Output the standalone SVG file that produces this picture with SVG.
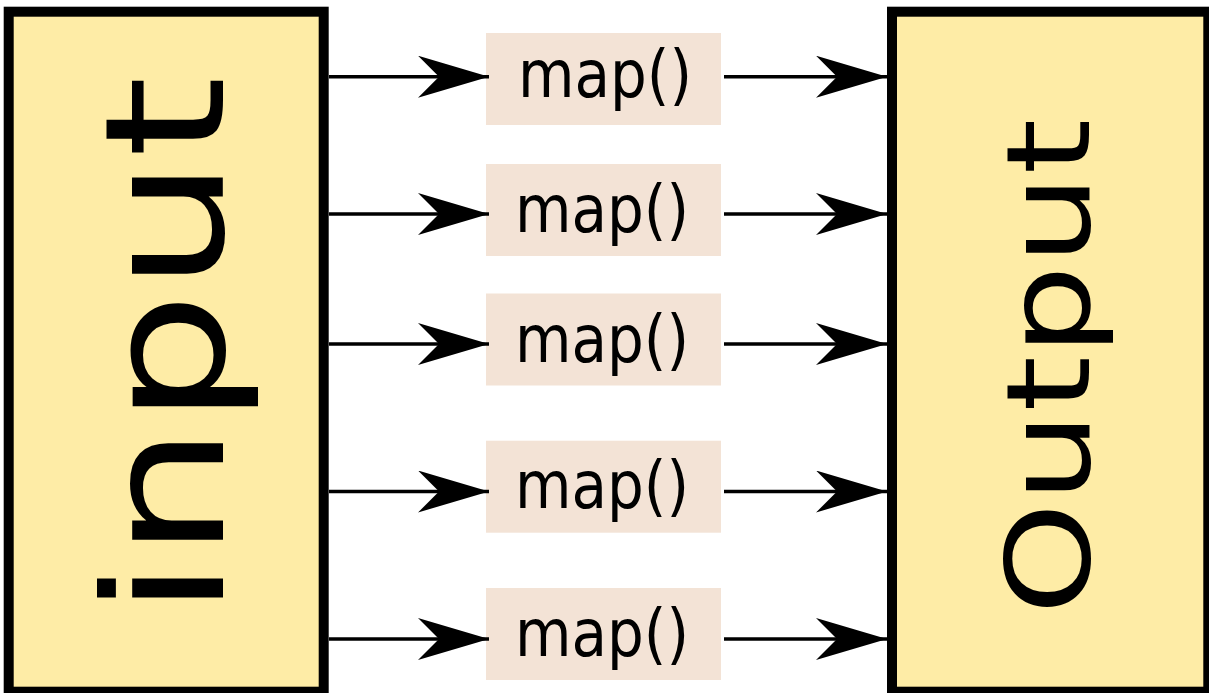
<svg xmlns="http://www.w3.org/2000/svg" width="1209" height="693" viewBox="0 0 1209 693">
  <style>
    .big { fill: #FEECA6; stroke: #000; stroke-width: 10; }
    .mapbox { fill: #F3E3D6; stroke: none; }
    .conn { stroke: #000; stroke-width: 3.5; fill: none; }
    .lbl { font-family: "DejaVu Sans", sans-serif; fill: #000; }
  </style>
  <defs>
    <marker id="head" viewBox="-71 -21 71 42" refX="0" refY="0" markerWidth="71" markerHeight="42" markerUnits="userSpaceOnUse" orient="auto">
      <path d="M0,0 L-71,-21 L-50,0 L-71,21 Z" fill="#000"/>
    </marker>
  </defs>
  <rect width="1209" height="693" fill="#fff"/>

  <g id="input">
    <rect class="big" x="8.7" y="11.7" width="315" height="680"/>
    <text class="lbl" font-size="166" text-anchor="middle" transform="translate(223,346.5) rotate(-90) scale(1.268,1)">input</text>
  </g>

  <g id="output">
    <rect class="big" x="892" y="11.7" width="316.3" height="680"/>
    <text class="lbl" font-size="115" text-anchor="middle" transform="translate(1089,366.7) rotate(-90) scale(1.243,1)">Output</text>
  </g>

  <g id="map1">
    <rect class="mapbox" x="486" y="33" width="235" height="92"/>
    <text class="lbl" font-size="58" transform="translate(518,97.3) scale(1,1.14)">map()</text>
  </g>
  <g id="map2">
    <rect class="mapbox" x="486" y="164" width="235" height="92"/>
    <text class="lbl" font-size="58" transform="translate(515,231.7) scale(1,1.14)">map()</text>
  </g>
  <g id="map3">
    <rect class="mapbox" x="486" y="293.5" width="235" height="92"/>
    <text class="lbl" font-size="58" transform="translate(515,361.7) scale(1,1.14)">map()</text>
  </g>
  <g id="map4">
    <rect class="mapbox" x="486" y="440.7" width="235" height="92"/>
    <text class="lbl" font-size="58" transform="translate(515,508.3) scale(1,1.14)">map()</text>
  </g>
  <g id="map5">
    <rect class="mapbox" x="486" y="588" width="235" height="92"/>
    <text class="lbl" font-size="58" transform="translate(515,655.5) scale(1,1.14)">map()</text>
  </g>

  <g id="connectors">
    <line class="conn" x1="329" y1="76.7" x2="489" y2="76.7" marker-end="url(#head)"/>
    <line class="conn" x1="329" y1="214" x2="489" y2="214" marker-end="url(#head)"/>
    <line class="conn" x1="329" y1="344" x2="489" y2="344" marker-end="url(#head)"/>
    <line class="conn" x1="329" y1="491.5" x2="489" y2="491.5" marker-end="url(#head)"/>
    <line class="conn" x1="329" y1="639" x2="489" y2="639" marker-end="url(#head)"/>
    <line class="conn" x1="724" y1="76.7" x2="887" y2="76.7" marker-end="url(#head)"/>
    <line class="conn" x1="724" y1="214" x2="887" y2="214" marker-end="url(#head)"/>
    <line class="conn" x1="724" y1="344" x2="887" y2="344" marker-end="url(#head)"/>
    <line class="conn" x1="724" y1="491.5" x2="887" y2="491.5" marker-end="url(#head)"/>
    <line class="conn" x1="724" y1="639" x2="887" y2="639" marker-end="url(#head)"/>
  </g>
</svg>
